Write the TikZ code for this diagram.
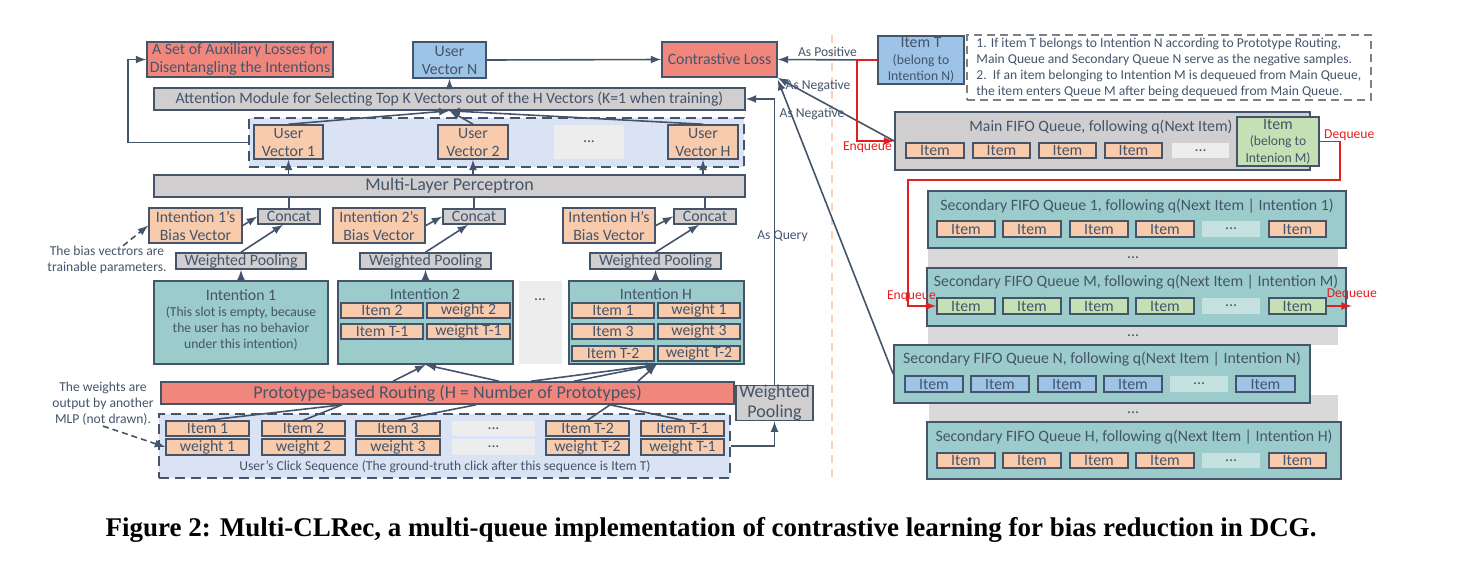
\documentclass[tikz,border=0pt]{standalone}
\usepackage{fontspec}
\setmainfont{Carlito}
\newfontfamily\capfont{Liberation Serif}
\usetikzlibrary{positioning,arrows.meta}

\definecolor{slate}{HTML}{44546A}
\definecolor{lossred}{HTML}{F1877C}
\definecolor{peach}{HTML}{F8CBAD}
\definecolor{greyfill}{HTML}{D0CECE}
\definecolor{paleblue}{HTML}{DAE3F3}
\definecolor{midblue}{HTML}{9DC3E6}
\definecolor{slotteal}{HTML}{9BCBCB}
\definecolor{leaf}{HTML}{C5E0B4}
\definecolor{gapgrey}{HTML}{EDEDED}
\definecolor{gapteal}{HTML}{C5E2E1}
\definecolor{bandgrey}{HTML}{D9D9D9}
\definecolor{qred}{HTML}{E0201F}
\definecolor{sepcol}{HTML}{F9D3BE}

\newcommand\basef{\fontsize{7.9}{9}\selectfont}
\newcommand\bigf{\fontsize{9}{9.8}\selectfont}
\newcommand\smallf{\fontsize{6.8}{8}\selectfont}

\tikzset{
  >=latex,
  spot/.style args={#1,#2,#3,#4}{at={({(#1+#3)/2},{(#2+#4)/2})},
    minimum width={(#3-#1)*0.5pt}, minimum height={(#4-#2)*0.5pt}},
  box/.style={draw=slate, line width=0.8pt, inner sep=0pt, text=slate, align=center, font=\basef},
  cell/.style={box, fill=#1},
  lossbox/.style={box, fill=lossred},
  gapcell/.style={fill=#1, inner sep=0pt, text=slate, font=\basef},
  holder/.style={draw=slate, line width=0.9pt, dash pattern=on 5pt off 3pt, fill=paleblue, inner sep=0pt},
  band/.style={fill=bandgrey, inner sep=0pt, text=slate, font=\basef},
  notebox/.style={draw=gray, line width=0.6pt, dash pattern=on 4pt off 2.5pt, inner sep=0pt},
  title/.style={text=slate, font=\basef, inner sep=0pt},
  tight/.style={font=\fontsize{7.9}{8.2}\selectfont},
  lbl/.style={text=slate, font=\smallf, align=center, inner sep=0pt},
  redlbl/.style={text=qred, font=\smallf, inner sep=0pt},
  arr/.style={draw=slate, line width=0.8pt, ->},
  link/.style={draw=slate, line width=0.8pt},
  redarr/.style={draw=qred, line width=0.8pt, ->},
}

\begin{document}
\begin{tikzpicture}[x=0.5pt, y=-0.5pt]
  \useasboundingbox (0,0) rectangle (1465,569);

  % separator between the model and the queues
  \coordinate (septop) at (832,35);
  \coordinate (sepbot) at (832,482);
  \draw[sepcol, line width=0.7pt, dash pattern=on 4pt off 3pt] (septop) -- (sepbot);

  % ---- left: the model ----
  \node[lossbox, spot={147,42,333,77}] (aux) {A Set of Auxiliary Losses for\\Disentangling the Intentions};
  \node[cell=midblue, spot={413,42,486,78}] (uvN) {User\\Vector N};
  \node[lossbox, spot={662,42,777,77}] (closs) {Contrastive Loss};
  \node[cell=greyfill, spot={154,88,745,110}] (attn) {Attention Module for Selecting Top K Vectors out of the H Vectors (K=1 when training)};

  \node[holder, spot={249,118,744,167}] (uvset) {};
  \node[cell=peach, spot={254,125,323,159}] (uv1) {User\\Vector 1};
  \node[cell=peach, spot={438,125,508,159}] (uv2) {User\\Vector 2};
  \node[gapcell=gapgrey, spot={554,125,624,159}] (uvgap) {...};
  \node[cell=peach, spot={668,125,738,159}] (uvH) {User\\Vector H};

  \node[cell=greyfill, font=\bigf, spot={154,175,745,197}] (mlp) {Multi-Layer Perceptron};

  \foreach \k/\xa/\xb/\xc/\xd/\xe/\xf in {1/149/242/258/320/176/306, 2/333/425/443/505/360/491, H/563/655/674/736/590/721} {
    \node[cell=peach, spot={\xa,208,\xb,243}] (bias\k) {Intention \k’s\\Bias Vector};
    \node[cell=greyfill, spot={\xc,209,\xd,224}] (cat\k) {Concat};
    \node[cell=greyfill, spot={\xe,253,\xf,269}] (wp\k) {Weighted Pooling};
    \draw[arr] (bias\k.east) -- (cat\k.west);
    \draw[arr] (wp\k.north) -- ([xshift=-3pt]cat\k.south);
    \draw[link] (cat\k.north) -- (cat\k.north |- mlp.south);
  }

  \node[lbl] (biasnote) at (107,260) {The bias vectrors are\\trainable parameters.};
  \draw[link, densely dashed, ->] ([xshift=8pt]biasnote.north) -- (bias1.west);

  % intention slots
  \node[cell=slotteal, spot={154,281,328,364}] (int1) {};
  \node[title] (int1t) at (241,295) {Intention 1};
  \node[lbl] (int1b) at (241,328) {(This slot is empty, because\\the user has no behavior\\under this intention)};

  \node[cell=slotteal, spot={338,281,513,364}] (int2) {};
  \node[title] (int2t) at (425,294) {Intention 2};
  \node[cell=peach, spot={341,303,423,318}] (i2a) {Item 2};
  \node[cell=peach, spot={427,303,510,318}] (w2a) {weight 2};
  \node[cell=peach, spot={341,324,423,339}] (i2b) {Item T-1};
  \node[cell=peach, spot={427,324,510,339}] (w2b) {weight T-1};

  \node[gapcell=gapgrey, spot={519,281,562,364}] (intgap) {};
  \node[title] (intgapt) at (540,300) {...};

  \node[cell=slotteal, spot={569,281,744,364}] (intH) {};
  \node[title] (intHt) at (656,294) {Intention H};
  \foreach \r/\ya/\yb/\lab in {a/303/318/1, b/324/339/3, c/346/361/T-2} {
    \node[cell=peach, spot={572,\ya,654,\yb}] (iH\r) {Item \lab};
    \node[cell=peach, spot={658,\ya,740,\yb}] (wH\r) {weight \lab};
  }

  \draw[arr] (int1.north) -- (int1.north |- wp1.south);
  \draw[arr] (wp2.south |- int2.north) -- (wp2.south);
  \draw[arr] (wpH.south |- intH.north) -- (wpH.south);

  % routing
  \node[lossbox, font=\bigf, spot={161,382,734,404}] (route) {Prototype-based Routing (H = Number of Prototypes)};
  \node[cell=greyfill, font=\bigf, spot={736,386,813,420}] (wpq) {Weighted\\Pooling};

  \node[holder, spot={159,414,730,478}] (seq) {};
  \node[cell=peach, spot={166,421,249,436}] (s1) {Item 1};
  \node[cell=peach, spot={166,439,249,455}] (sw1) {weight 1};
  \node[cell=peach, spot={262,421,345,436}] (s2) {Item 2};
  \node[cell=peach, spot={262,439,345,455}] (sw2) {weight 2};
  \node[cell=peach, spot={356,421,440,436}] (s3) {Item 3};
  \node[cell=peach, spot={356,439,440,455}] (sw3) {weight 3};
  \node[gapcell=gapgrey, spot={452,421,535,436}] (sgapa) {...};
  \node[gapcell=gapgrey, spot={452,439,535,455}] (sgapb) {...};
  \node[cell=peach, spot={546,421,629,436}] (s4) {Item T-2};
  \node[cell=peach, spot={546,439,629,455}] (sw4) {weight T-2};
  \node[cell=peach, spot={641,421,724,436}] (s5) {Item T-1};
  \node[cell=peach, spot={641,439,724,455}] (sw5) {weight T-1};
  \node[lbl] (seqt) at (445,467) {User’s Click Sequence (The ground-truth click after this sequence is Item T)};

  \node[lbl] (wnote) at (103,404) {The weights are\\output by another\\MLP (not drawn).};
  \draw[link, densely dashed, ->] (wnote.south) -- (sw1.west);

  \draw[link] (s1.north) -- ([xshift=-52.75pt]route.south);
  \draw[link] (s2.north) -- ([xshift=-52.75pt]route.south);
  \draw[link] (s3.north) -- ([xshift=14.25pt]route.south);
  \draw[link] (s4.north) -- ([xshift=81.25pt]route.south);
  \draw[link] (s5.north) -- ([xshift=81.25pt]route.south);
  \draw[arr] ([xshift=-27.25pt]route.north) -- (int2.south);
  \draw[arr] ([xshift=25.75pt]route.north) -- (int2.south);
  \draw[arr] ([xshift=41.75pt]route.north) -- (intH.south);
  \draw[arr] ([xshift=63.25pt]route.north) -- (intH.south);
  \draw[arr] ([xshift=95.25pt]route.north) -- (intH.south);

  % up to the attention module
  \draw[arr] (seq.east) -| (wpq.south);
  \draw[arr] (wpq.north) |- node[lbl, pos=0.26, xshift=4pt] {As Query} (attn.east);
  \draw[arr] (mlp.north -| uv1) -- (uv1.south);
  \draw[arr] (mlp.north -| uv2) -- (uv2.south);
  \draw[arr] (mlp.north -| uvH) -- (uvH.south);
  \draw[arr] (uv1.north) -- (attn.south -| uvN);
  \draw[arr] (uv2.north) -- (attn.south -| uvN);
  \draw[arr] (uvH.north) -- (attn.south -| uvN);
  \draw[arr] (attn.north -| uvN) -- (uvN.south);
  \draw[arr] (uvN.east) -- (closs.west);
  \draw[arr] (uvset.west) -- ++(-120,0) |- (aux.west);

  % ---- right: the queues ----
  \node[cell=midblue, tight, spot={878,36,964,84}] (itemT) {Item T\\{\smallf (belong to}\\{\smallf Intention N)}};
  \node[notebox, spot={967,35,1371,100}] (note) {};
  \node[lbl, align=left, anchor=west] (notet) at (976,68) {1. If item T belongs to Intention N according to Prototype Routing,\\Main Queue and Secondary Queue N serve as the negative samples.\\2.\ \ If an item belonging to Intention M is dequeued from Main Queue,\\the item enters Queue M after being dequeued from Main Queue.};

  \node[cell=greyfill, spot={895,112,1310,170}] (mainq) {};
  \node[title] (mainqt) at (1101,127) {Main FIFO Queue, following q(Next Item)};
  \foreach \n/\xa/\xb in {1/906/964, 2/973/1030, 3/1039/1096, 4/1105/1162}
    \node[cell=peach, spot={\xa,143,\xb,158}] (mn\n) {Item};
  \node[gapcell=gapgrey, spot={1172,143,1229,158}] (mngap) {...};
  \node[cell=leaf, tight, spot={1237,117,1319,166}] (green) {Item\\{\smallf (belong to}\\{\smallf Intenion M)}};

  % stacked secondary queues
  \node[band, spot={928,248,1338,268}] (band1) {...};
  \node[band, spot={928,326,1338,345}] (band2) {...};
  \node[band, spot={929,395,1338,422}] (band3) {};
  \node[title] (band3t) at (1133,413) {...};

  \node[cell=slotteal, spot={928,191,1346,248}] (q1) {};
  \node[title] (q1t) at (1137,206) {Secondary FIFO Queue 1, following q(Next Item | Intention 1)};
  \node[cell=slotteal, spot={927,268,1346,326}] (qM) {};
  \node[title] (qMt) at (1136,282) {Secondary FIFO Queue M, following q(Next Item | Intention M)};
  \node[cell=slotteal, spot={894,345,1310,403}] (qN) {};
  \node[title] (qNt) at (1102,359) {Secondary FIFO Queue N, following q(Next Item | Intention N)};
  \node[cell=slotteal, spot={927,422,1341,479}] (qH) {};
  \node[title] (qHt) at (1134,437) {Secondary FIFO Queue H, following q(Next Item | Intention H)};

  \foreach \n/\xa/\xb in {1/937/995, 2/1003/1061, 3/1070/1128, 4/1136/1194, 6/1269/1326} {
    \node[cell=peach, spot={\xa,221,\xb,237}] (qa\n) {Item};
    \node[cell=leaf, spot={\xa,298,\xb,314}] (qm\n) {Item};
    \node[cell=peach, spot={\xa,453,\xb,468}] (qh\n) {Item};
  }
  \node[gapcell=gapteal, spot={1202,221,1260,237}] (qagap) {...};
  \node[gapcell=gapteal, spot={1202,298,1260,314}] (qmgap) {...};
  \node[gapcell=gapteal, spot={1202,453,1260,468}] (qhgap) {...};
  \foreach \n/\xa/\xb in {1/905/963, 2/971/1029, 3/1038/1096, 4/1104/1162, 6/1236/1295}
    \node[cell=midblue, spot={\xa,376,\xb,392}] (qn\n) {Item};
  \node[gapcell=gapteal, spot={1170,376,1228,392}] (qngap) {...};

  % positives, negatives, enqueue and dequeue
  \draw[arr] (itemT.west) -- node[lbl, above=1pt] {As Positive} (closs.east);
  \draw[arr] (mainq.west) -- (closs.south east);
  \node[lbl] (neg1) at (818,86) {As Negative};
  \draw[arr] (qN.west) -- ([yshift=-1pt]closs.south east);
  \node[lbl] (neg2) at (812,114) {As Negative};

  \draw[redarr] (itemT.west) -- ++(-20,0) |- (mainq.west);
  \node[redlbl, anchor=north east] (enq1) at ([xshift=-1pt]mainq.west) {Enqueue};
  \draw[redarr] (green.east) -- ++(20,0) -- ++(0,38.5) -| ([xshift=-14pt]qm1.west) -- (qm1.west);
  \node[redlbl, anchor=south west] (deq1) at ([xshift=2pt]green.east) {Dequeue};
  \node[redlbl, anchor=south east] (enq2) at ([yshift=2pt]qm1.west) {Enqueue};
  \draw[redarr] (qm6.east) -- ++(25,0) coordinate (deqend);
  \node[redlbl, anchor=south] (deq2) at ([yshift=3pt]deqend) {Dequeue};

  % caption
  \node[font=\capfont\bfseries\fontsize{13.5}{15}\selectfont, inner sep=0pt] (caption) at (711,530) {Figure 2: Multi-CLRec, a multi-queue implementation of contrastive learning for bias reduction in DCG.};
\end{tikzpicture}
\end{document}
